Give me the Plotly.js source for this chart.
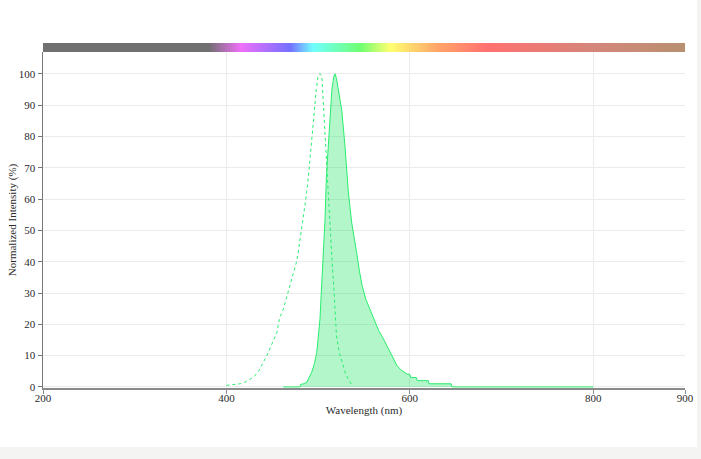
<!DOCTYPE html>
<html>
<head>
<meta charset="utf-8">
<script src="https://cdn.plot.ly/plotly-3.0.1.min.js"></script>
<style>
  html, body { margin: 0; padding: 0; background: #f4f4f2; }
  #wrap { position: relative; width: 701px; height: 459px; }
  #chart { position: absolute; left: 0; top: 0; width: 697px; height: 447px; background: #fff; }
</style>
</head>
<body>
<div id="wrap"><div id="chart"></div></div>
<script>
// Excitation spectrum (dashed)
const exWavelength = [400, 410, 415, 420, 426, 430, 435, 440, 445, 451, 455, 458, 462, 466, 470, 473, 476, 478, 480, 482, 484, 486, 489, 491, 493, 495, 498, 500, 502, 504, 506, 509, 511, 513, 515, 517, 520, 523, 526, 530, 533, 537];
const exIntensity  = [0.5, 0.8, 1.0, 1.5, 2.5, 3.2, 5.0, 7.9, 10.5, 14.7, 17.4, 22.0, 24.8, 29.0, 33.0, 36.5, 39.5, 42.5, 46.5, 50.3, 53.5, 58.8, 66.0, 72.6, 79.5, 86.4, 95.0, 99.5, 100, 99.5, 88.5, 72.6, 60.0, 50.3, 41.0, 32.3, 16.3, 11.0, 7.9, 4.2, 2.3, 0.6];

// Emission spectrum (solid, filled)
const emWavelength = [462, 480, 481, 484, 487.6, 490, 493, 496, 498.5, 502, 504, 505.7, 507.5, 509, 511, 513, 515, 517, 518.5, 520, 522, 525.7, 529, 533, 536.6, 539, 542, 545, 548, 552, 557, 562, 566, 570, 575, 580, 586, 590, 594, 597, 600, 601, 607, 608, 620, 621, 645, 646, 800];
const emIntensity  = [0, 0, 0.8, 1.0, 1.5, 3.0, 4.7, 7.5, 11.0, 21.7, 32.3, 42.9, 53.5, 67.3, 77.9, 88.5, 95.0, 99.0, 100, 98.5, 95.0, 88.5, 77.9, 62.0, 52.4, 47.5, 42.9, 37.0, 32.3, 28.0, 24.5, 20.5, 18.0, 16.0, 13.2, 10.0, 6.8, 5.5, 4.6, 4.1, 4.0, 3.0, 3.0, 2.0, 2.0, 1.0, 1.0, 0, 0];

// Spectrum colour bar stops
const barStops  = [200, 380, 415, 469, 494, 546, 578, 630, 684, 800, 900];
const barColors = ['#707070', '#707070', '#f070f8', '#7470ff', '#70ffff', '#70ff70', '#ffff70', '#ffa468', '#ff7070', '#d4867a', '#b89070'];
const barRange = [200, 900];

const xTicks = [200, 400, 600, 800, 900];
const yTicks = [0, 10, 20, 30, 40, 50, 60, 70, 80, 90, 100];

const green = 'rgb(40,238,110)';
const font = {family: '"Liberation Serif", "DejaVu Serif", serif', size: 11, color: '#2a2a2a'};

const lo = barStops[0], hi = barStops[barStops.length - 1];
const colorscale = barStops.map((s, i) => [(s - lo) / (hi - lo), barColors[i]]);

const traces = [
  {
    type: 'heatmap', x: barRange, y: [0, 1], z: [barRange, barRange],
    zmin: lo, zmax: hi, colorscale: colorscale, zsmooth: 'best',
    showscale: false, hoverinfo: 'skip', xaxis: 'x', yaxis: 'y2'
  },
  {
    type: 'scatter', mode: 'lines', x: emWavelength, y: emIntensity,
    line: {color: green, width: 1}, fill: 'tozeroy', fillcolor: 'rgba(0,225,80,0.3)',
    hoverinfo: 'skip'
  },
  {
    type: 'scatter', mode: 'lines', x: exWavelength, y: exIntensity,
    line: {color: green, width: 1, dash: '3px,3px'}, hoverinfo: 'skip'
  }
];

const layout = {
  width: 697, height: 447,
  margin: {l: 43, r: 12, t: 43, b: 59},
  paper_bgcolor: '#ffffff', plot_bgcolor: '#ffffff',
  showlegend: false,
  font: font,
  xaxis: {
    range: [200, 900], tickvals: xTicks, ticktext: xTicks.map(String),
    showgrid: true, gridcolor: '#ebebeb', gridwidth: 1,
    showline: true, linecolor: '#8a8a8a', linewidth: 1.5,
    ticks: 'outside', ticklen: 4, tickcolor: '#8a8a8a',
    ticklabelstandoff: -5,
    zeroline: false, layer: 'below traces',
    title: {text: 'Wavelength (nm)', font: font, standoff: 2},
    tickfont: font, fixedrange: true
  },
  yaxis: {
    domain: [0, 0.974], range: [-0.35, 107], tickvals: yTicks,
    showgrid: true, gridcolor: '#ebebeb', gridwidth: 1,
    showline: true, linecolor: '#777', linewidth: 1.5,
    ticks: 'outside', ticklen: 4, tickcolor: '#777',
    zeroline: false, layer: 'below traces',
    title: {text: 'Normalized Intensity (%)', font: font, standoff: 0},
    tickfont: font, fixedrange: true
  },
  yaxis2: {
    domain: [0.974, 1], range: [0, 1], showticklabels: false, ticks: '',
    showgrid: false, zeroline: false, showline: false, fixedrange: true
  }
};

Plotly.newPlot('chart', traces, layout, {staticPlot: true, displayModeBar: false});
</script>
</body>
</html>
